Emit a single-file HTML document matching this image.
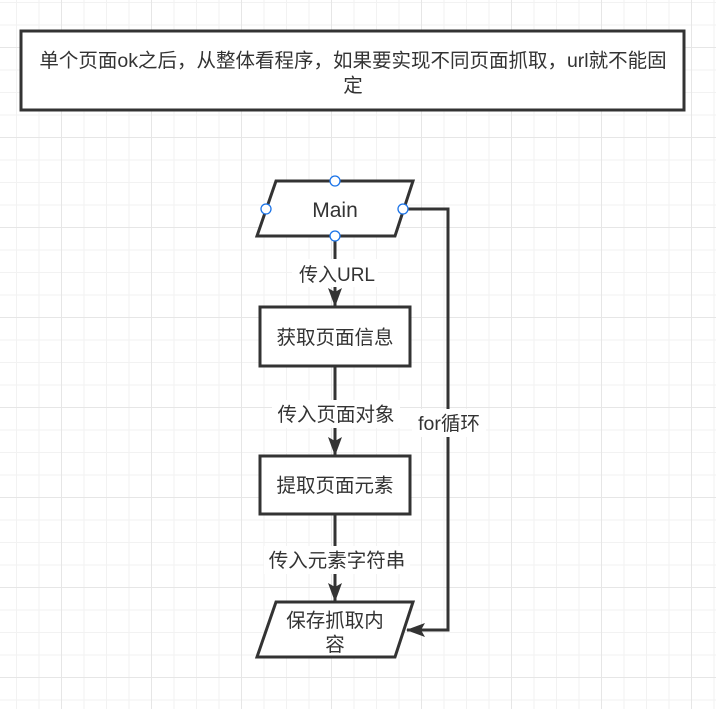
<!DOCTYPE html>
<html><head><meta charset="utf-8"><style>
html,body{margin:0;padding:0;}
body{width:716px;height:709px;overflow:hidden;background:#fff;
background-image:linear-gradient(#e6e6e6 1px,transparent 1px),linear-gradient(90deg,#e6e6e6 1px,transparent 1px),linear-gradient(#f2f2f2 1px,transparent 1px),linear-gradient(90deg,#f2f2f2 1px,transparent 1px);
background-size:90px 90px,90px 90px,22.5px 22.5px,22.5px 22.5px;
background-position:0 47px,61px 0,0 2px,16px 0;
font-family:"Liberation Sans","Noto Sans CJK SC",sans-serif;}
</style></head><body>
<svg width="716" height="709" style="position:absolute;left:0;top:0" font-family="Liberation Sans, Noto Sans CJK SC, sans-serif">
<defs><marker id="a" markerWidth="20" markerHeight="16" refX="18" refY="7" orient="auto" markerUnits="userSpaceOnUse"><path d="M0,0 L19,7 L0,14 L4,7 Z" fill="#333"/></marker></defs>
<rect x="21" y="31" width="663" height="79" fill="#fff" stroke="#333" stroke-width="3"/>
<text x="353" y="67" font-size="19.5" text-anchor="middle" fill="#333">单个页面ok之后，从整体看程序，如果要实现不同页面抓取，url就不能固</text>
<text x="353" y="92" font-size="19.5" text-anchor="middle" fill="#333">定</text>
<polygon points="276,181 413,181 395,236 257,236" fill="#fff" stroke="#333" stroke-width="3"/>
<text x="335" y="217" font-size="21" text-anchor="middle" fill="#333">Main</text>
<path d="M335,236 V306" stroke="#333" stroke-width="3" fill="none" marker-end="url(#a)"/>
<rect x="292" y="259" width="86" height="28" fill="#fff"/>
<text x="337" y="281" font-size="19" text-anchor="middle" fill="#333">传入URL</text>
<rect x="260" y="307" width="150" height="59" fill="#fff" stroke="#333" stroke-width="3"/>
<text x="335" y="344" font-size="19.5" text-anchor="middle" fill="#333">获取页面信息</text>
<path d="M335,366 V455" stroke="#333" stroke-width="3" fill="none" marker-end="url(#a)"/>
<rect x="272" y="400" width="128" height="28" fill="#fff"/>
<text x="336" y="421" font-size="19.5" text-anchor="middle" fill="#333">传入页面对象</text>
<rect x="260" y="456" width="150" height="58" fill="#fff" stroke="#333" stroke-width="3"/>
<text x="335" y="492" font-size="19.5" text-anchor="middle" fill="#333">提取页面元素</text>
<path d="M335,514 V601" stroke="#333" stroke-width="3" fill="none" marker-end="url(#a)"/>
<rect x="264" y="546" width="146" height="28" fill="#fff"/>
<text x="337" y="567" font-size="19.5" text-anchor="middle" fill="#333">传入元素字符串</text>
<polygon points="276,602 413,602 395,657 257,657" fill="#fff" stroke="#333" stroke-width="3"/>
<text x="335" y="627" font-size="19.5" text-anchor="middle" fill="#333">保存抓取内</text>
<text x="335" y="651" font-size="19.5" text-anchor="middle" fill="#333">容</text>
<path d="M403,209 H448 V630 H407" stroke="#333" stroke-width="3" fill="none" marker-end="url(#a)"/>
<rect x="412" y="409" width="74" height="28" fill="#fff"/>
<text x="449" y="430" font-size="19.5" text-anchor="middle" fill="#333">for循环</text>
<g fill="#fff" stroke="#1a73e8" stroke-width="1.3">
<circle cx="335" cy="181" r="5"/><circle cx="266" cy="209" r="5"/><circle cx="403" cy="209" r="5"/><circle cx="335" cy="236" r="5"/>
</g>
</svg>
</body></html>
